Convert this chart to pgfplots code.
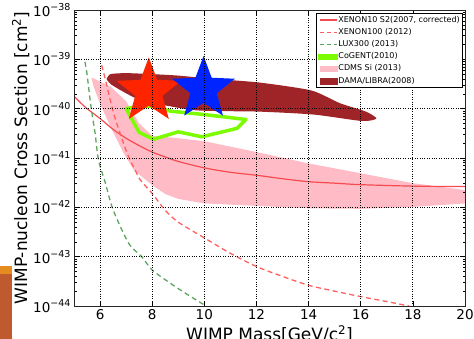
\documentclass[border=0pt]{standalone}
\usepackage{fontspec}
\setmainfont{DejaVu Sans}
\usepackage{pgfplots}
\pgfplotsset{compat=1.18}

\definecolor{xenred}{RGB}{245,75,80}
\definecolor{xen100}{RGB}{255,95,95}
\definecolor{luxgreen}{RGB}{95,165,95}
\definecolor{cpink}{RGB}{255,188,198}
\definecolor{cogent}{RGB}{124,252,0}
\definecolor{dama}{RGB}{158,36,40}
\definecolor{starred}{RGB}{255,36,0}
\definecolor{starblue}{RGB}{0,36,255}
\definecolor{barorange}{RGB}{228,140,32}
\definecolor{barbrown}{RGB}{190,90,46}

\pgfdeclareplotmark{fstar}{%
  \pgfpathmoveto{\pgfpointpolar{90}{\pgfplotmarksize}}%
  \pgfpathlineto{\pgfpointpolar{126}{0.42\pgfplotmarksize}}%
  \pgfpathlineto{\pgfpointpolar{162}{\pgfplotmarksize}}%
  \pgfpathlineto{\pgfpointpolar{198}{0.42\pgfplotmarksize}}%
  \pgfpathlineto{\pgfpointpolar{234}{\pgfplotmarksize}}%
  \pgfpathlineto{\pgfpointpolar{270}{0.42\pgfplotmarksize}}%
  \pgfpathlineto{\pgfpointpolar{306}{\pgfplotmarksize}}%
  \pgfpathlineto{\pgfpointpolar{342}{0.42\pgfplotmarksize}}%
  \pgfpathlineto{\pgfpointpolar{18}{\pgfplotmarksize}}%
  \pgfpathlineto{\pgfpointpolar{54}{0.42\pgfplotmarksize}}%
  \pgfpathclose
  \pgfusepathqfill}

\newcommand{\tp}[1]{10\raisebox{0.45em}{\fontsize{9.5}{10}\selectfont −#1}}

\begin{document}
\begin{tikzpicture}
\begin{axis}[name=ax, set layers, axis on top,
  scale only axis, width=391pt, height=296pt,
  xmin=5, xmax=20, ymode=log, ymin=1e-44, ymax=1e-38,
  xtick={6,8,...,20},
  ytick={1e-44,1e-43,1e-42,1e-41,1e-40,1e-39,1e-38},
  yticklabels={\tp{44},\tp{43},\tp{42},\tp{41},\tp{40},\tp{39},\tp{38}},
  grid=major, major grid style={black, dotted, line width=0.8pt},
  axis line style={black!85, line width=0.8pt},
  tick style={black, line width=0.6pt},
  major tick length=5pt, minor tick length=2.5pt,
  ticklabel style={font=\fontsize{13.5}{14}\selectfont},
  /pgf/number format/assume math mode=true,
  xlabel={WIMP Mass[GeV/c\textsuperscript{2}]},
  ylabel={WIMP-nucleon Cross Section [cm\textsuperscript{2}]},
  label style={font=\fontsize{17}{18}\selectfont},
  ylabel style={yshift=-3pt},
  xlabel style={yshift=1pt},
  legend cell align=left,
  legend style={at={(rel axis cs:0.995,0.99)}, anchor=north east,
    font=\fontsize{8}{9}\selectfont, draw=black, line width=0.6pt,
    inner sep=2.3pt, row sep=3.3pt,
    nodes={inner sep=0.6pt, text height=6pt, text depth=1.7pt}},
]
% CDMS Si band
\addplot[fill=cpink, draw=none, forget plot] coordinates {
(5.68,4.27e-40) (6,3.55e-40) (6.4,2.82e-40) (7.0,1.41e-40) (7.5,5.01e-41)
(8,2.82e-41) (9,2.51e-41) (10,2.19e-41) (11,1.70e-41) (12,1.32e-41)
(14,7.76e-42) (16,4.90e-42) (18,3.09e-42) (20,2.24e-42)
(20,1.20e-42) (18,1.02e-42) (16,9.33e-43) (14,9.55e-43) (12,1.07e-42)
(10,1.20e-42) (9,1.48e-42) (8.5,1.86e-42) (8,2.82e-42) (7.3,5.62e-42)
(6.9,1.26e-41) (6.4,4.27e-41) (6,1.26e-40) (5.75,2.82e-40) (5.68,3.98e-40)
} -- cycle;
% DAMA/LIBRA
\addplot[fill=dama, draw=none, smooth, tension=0.4, forget plot] coordinates {
(6.25,3.98e-40) (6.4,5.01e-40) (7,5.25e-40) (8,5.01e-40) (9,4.68e-40)
(10.2,4.07e-40) (12.1,3.39e-40) (14.1,2.34e-40) (15.2,1.29e-40) (16.2,8.71e-41)
(16.6,6.31e-41) (16.05,5.62e-41) (14.2,7.59e-41) (12.1,8.71e-41) (9.6,9.33e-41)
(7.6,1.48e-40) (6.9,2.19e-40) (6.4,3.16e-40) (6.25,3.98e-40)
} -- cycle;
% CoGENT
\addplot[draw=cogent, line width=3.5pt, line join=round, forget plot] coordinates {
(7.0,1.0e-40) (7.45,1.10e-40) (8.0,1.12e-40) (8.7,8.91e-41) (10,7.59e-41)
(11.6,6.03e-41) (11.25,3.98e-41) (9.9,2.69e-41) (9,3.39e-41) (8.05,2.40e-41)
(7.5,3.31e-41) (7.0,1.0e-40)
} -- cycle;
% XENON10 S2
\addplot[xenred, line width=1.2pt, smooth, forget plot] coordinates {
(5,1.78e-40) (5.25,1.32e-40) (5.5,1.0e-40) (6,6.31e-41) (6.5,3.80e-41)
(7,2.51e-41) (7.5,1.78e-41) (8,1.32e-41) (8.5,1.05e-41) (9,8.51e-42)
(10,6.31e-42) (11,5.13e-42) (12,4.47e-42) (13,3.80e-42) (14,3.31e-42)
(15,3.09e-42) (16,2.88e-42) (18,2.69e-42) (20,2.63e-42)
};
% XENON100
\addplot[xen100, line width=1.3pt, dash pattern=on 5pt off 3.5pt, smooth, forget plot] coordinates {
(6.06,7.59e-40) (6.2,3.98e-40) (6.38,1.58e-40) (6.55,7.08e-41) (6.77,3.16e-41)
(7.0,1.41e-41) (7.15,9.12e-42) (7.35,5.62e-42) (7.55,3.55e-42) (8,1.91e-42)
(8.5,8.71e-43) (9,5.01e-43) (10,2.40e-43) (11,1.17e-43) (12,6.31e-44)
(13,3.98e-44) (14,2.63e-44) (15,2.00e-44) (16,1.55e-44) (17,1.23e-44) (17.85,1.0e-44)
};
% LUX
\addplot[luxgreen, line width=1.3pt, dash pattern=on 5pt off 3.5pt, smooth, forget plot] coordinates {
(5.42,8.91e-40) (5.5,5.01e-40) (5.62,1.48e-40) (5.72,6.31e-41) (5.81,3.16e-41)
(5.94,9.12e-42) (6.2,3.16e-42) (6.5,8.91e-43) (7.1,1.86e-43) (7.6,1.0e-43)
(8,5.37e-44) (8.7,2.88e-44) (9.3,1.78e-44) (10,1.05e-44)
};
% stars
\addplot[on layer=axis foreground, only marks, mark=fstar, mark size=34pt, color=starred, forget plot]
  coordinates {(7.87,2.24e-40)};
\addplot[on layer=axis foreground, only marks, mark=fstar, mark size=33pt, color=starblue, forget plot]
  coordinates {(9.97,2.51e-40)};

\addlegendimage{draw=xenred, line width=1.2pt}
\addlegendentry{XENON10 S2(2007, corrected)}
\addlegendimage{draw=xen100, line width=1.2pt, dash pattern=on 4pt off 3pt}
\addlegendentry{XENON100 (2012)}
\addlegendimage{draw=luxgreen, line width=1.2pt, dash pattern=on 4pt off 3pt}
\addlegendentry{LUX300 (2013)}
\addlegendimage{legend image code/.code={\fill[cogent] (-0.05cm,-2.6pt) rectangle (0.62cm,2.6pt);}}
\addlegendentry{CoGENT(2010)}
\addlegendimage{legend image code/.code={\fill[cpink] (0cm,-2.8pt) rectangle (0.6cm,2.8pt);}}
\addlegendentry{CDMS Si (2013)}
\addlegendimage{legend image code/.code={\fill[dama] (0cm,-2.8pt) rectangle (0.6cm,2.8pt);}}
\addlegendentry{DAMA/LIBRA(2008)}
\end{axis}
\fill[barbrown] ([xshift=-74pt,yshift=-33pt]ax.south west) rectangle ++(12pt,65pt);
\fill[barorange] ([xshift=-74pt,yshift=32pt]ax.south west) rectangle ++(12pt,8pt);
\pgfresetboundingbox
\path[use as bounding box] ([xshift=-74pt,yshift=-33pt]ax.south west) rectangle ([xshift=9pt,yshift=10pt]ax.north east);
\end{tikzpicture}
\end{document}
